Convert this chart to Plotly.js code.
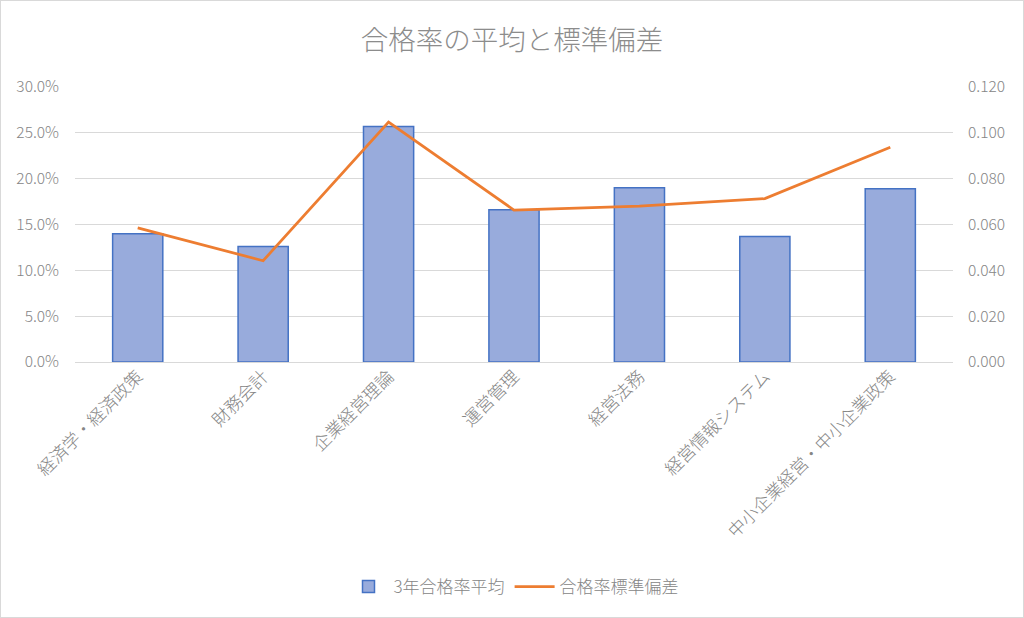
<!DOCTYPE html>
<html>
<head>
<meta charset="utf-8">
<script src="https://cdn.plot.ly/plotly-3.0.1.min.js"></script>
<style>
  body { margin: 0; background: #fff; }
  #chart { width: 1024px; height: 618px; }
  #frame { position: absolute; left: 0; top: 0; width: 1022px; height: 616px; border: 1px solid #d9d9d9; pointer-events: none; }
</style>
</head>
<body>
<div id="chart"></div>
<div id="frame"></div>
<script>
// 科目ごとの合格率（3年平均）と標準偏差
var subjects = ['経済学・経済政策', '財務会計', '企業経営理論', '運営管理', '経営法務', '経営情報システム', '中小企業経営・中小企業政策'];
var passRateAvg = [0.140, 0.126, 0.257, 0.166, 0.190, 0.137, 0.189];
var passRateStd = [0.0585, 0.0442, 0.1047, 0.0663, 0.0680, 0.0713, 0.0937];

var grey = '#868686';
var font = '"Noto Sans CJK JP", "Open Sans", sans-serif';

var traces = [{
    type: 'bar',
    name: '3年合格率平均',
    x: subjects,
    y: passRateAvg,
    width: 0.4,
    marker: {color: '#98abdc', line: {color: '#4472c4', width: 1.5}},
    hoverinfo: 'x+y'
}, {
    type: 'scatter',
    mode: 'lines',
    name: '合格率標準偏差',
    x: subjects,
    y: passRateStd,
    yaxis: 'y2',
    line: {color: '#ed7d31', width: 2.75}
}];

var layout = {
    width: 1024,
    height: 618,
    margin: {l: 75, r: 71, t: 87, b: 256},
    paper_bgcolor: '#fff',
    plot_bgcolor: '#fff',
    font: {family: font, color: grey, size: 14, weight: 300},
    title: {
        text: '合格率の平均と標準偏差',
        font: {size: 27.5, color: '#8c8c8c', weight: 300},
        x: 0.5, xanchor: 'center',
        y: 1 - 40 / 618, yanchor: 'middle', yref: 'container'
    },
    showlegend: true,
    legend: {
        orientation: 'h',
        x: 0.5, xanchor: 'center',
        y: 1 - 587 / 618, yanchor: 'middle', yref: 'container',
        font: {size: 17, color: grey, weight: 300},
        traceorder: 'normal',
        itemwidth: 40
    },
    xaxis: {
        tickangle: -45,
        showgrid: false,
        ticks: '',
        showline: false,
        tickfont: {size: 17.5, color: grey, weight: 300}
    },
    yaxis: {
        range: [0, 0.30],
        dtick: 0.05,
        tickformat: '.1%',
        gridcolor: '#d9d9d9',
        gridwidth: 1,
        zeroline: true,
        zerolinecolor: '#d9d9d9',
        showline: false,
        ticks: '',
        tickfont: {size: 15.5, color: grey, weight: 300},
        ticklabelstandoff: 15
    },
    yaxis2: {
        overlaying: 'y',
        side: 'right',
        range: [0, 0.12],
        dtick: 0.02,
        tickformat: '.3f',
        showgrid: false,
        zeroline: false,
        showline: false,
        ticks: '',
        tickfont: {size: 15.5, color: grey, weight: 300},
        ticklabelstandoff: 14
    }
};

Plotly.newPlot('chart', traces, layout, {displayModeBar: false});
</script>
</body>
</html>
